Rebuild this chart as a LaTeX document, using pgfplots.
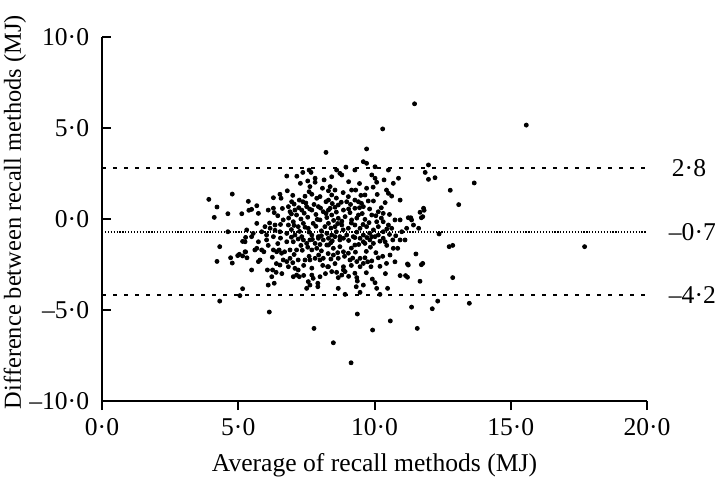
\documentclass[border=0pt]{standalone}
\usepackage{fontspec}
\setmainfont{Liberation Serif}
\usepackage{pgfplots}
\pgfplotsset{compat=1.18}
\begin{document}
\fontsize{12.8}{15}\selectfont
\begin{tikzpicture}
\begin{axis}[
  scale only axis,
  width=272.5pt, height=182pt,
  xmin=0, xmax=20, ymin=-10, ymax=10,
  axis x line=bottom, axis y line=left,
  axis line style={-, line width=1pt},
  xtick={0,5,10,15,20}, ytick={-10,-5,0,5,10},
  xticklabels={0·0,5·0,10·0,15·0,20·0},
  yticklabels={–10·0,–5·0,0·0,5·0,10·0},
  xtick align=outside, ytick align=inside,
  major tick length=4.5pt,
  tick style={line width=1pt, black},
  tick label style={font=\fontsize{12.8}{15}\selectfont},
  yticklabel style={xshift=-2pt},
  xlabel={Average of recall methods (MJ)},
  ylabel={Difference between recall methods (MJ)},
  xlabel style={font=\fontsize{12.8}{15}\selectfont},
  every axis y label/.style={at={([xshift=-43.5pt]axis description cs:0,0.519)}, rotate=90, anchor=center, inner sep=0pt, font=\fontsize{12.2}{14}\selectfont},
  clip=false,
]
\addplot[only marks, mark=*, mark size=1pt, black] coordinates {
(11.47,6.33) (15.57,5.16) (11.98,2.97) (11.86,2.56) (11.98,2.18) (12.22,2.27) (13.66,1.98) (12.78,1.58)
(13.09,0.79) (11.80,0.59) (11.82,0.48) (11.67,0.37) (11.77,0.13) (11.72,0.07) (11.33,0.07) (11.43,-0.33)
(11.62,-0.51) (12.37,-0.82) (12.74,-1.52) (12.87,-1.45) (17.71,-1.52) (11.52,-1.92) (11.77,-2.44) (11.72,-2.51)
(11.67,-3.42) (12.87,-3.22) (11.36,-4.84) (12.12,-4.93) (12.32,-4.51) (13.48,-4.63) (11.57,-6.01)
(3.92,1.08) (4.78,1.37) (4.22,0.66) (4.12,0.09) (4.62,0.29) (5.13,0.29) (5.37,0.97) (5.39,0.48)
(4.62,-0.70) (5.27,-1.01) (5.16,-1.23) (4.32,-1.52) (4.22,-2.33) (4.72,-2.13) (4.78,-2.42) (4.98,-2.01)
(5.04,-1.94) (5.16,-2.03) (5.27,-1.81) (5.32,-2.13) (5.16,-3.83) (5.06,-4.21) (4.32,-4.51)
(9.37,-5.22) (10.58,-5.60) (9.93,-6.10) (8.49,-6.80) (9.14,-7.90) (6.14,-5.11) (7.78,-6.01) (10.30,4.95)
(8.22,3.66) (6.78,2.36) (7.37,2.56) (7.60,2.69) (7.67,2.56) (7.28,1.96) (7.55,2.09) (7.82,2.24)
(7.82,2.02) (7.63,1.78) (7.60,1.50) (7.70,1.36) (8.09,1.69) (8.31,1.55) (6.53,1.36) (6.29,1.17)
(6.57,1.14) (6.96,0.95) (7.24,1.04) (7.37,0.95) (7.88,1.14) (8.00,1.23) (8.22,0.95) (5.68,0.73)
(5.49,0.53) (5.74,0.31) (6.10,0.49) (6.29,0.59) (6.32,0.35) (6.84,0.68) (6.90,0.40) (7.08,0.49)
(7.14,0.22) (7.33,0.49) (7.51,0.68) (7.70,0.49) (7.94,0.68) (8.12,0.40) (8.31,0.49) (6.65,-0.05)
(5.68,-0.24) (5.98,-0.42) (6.17,-0.51) (6.35,-0.33) (6.53,-0.70) (6.84,-0.33) (7.02,-0.15) (7.20,-0.42)
(7.39,-0.24) (7.57,-0.51) (7.75,-0.24) (8.00,-0.05) (8.18,-0.42) (5.31,-0.60) (5.55,-0.79) (5.86,-0.70)
(6.04,-0.88) (6.29,-0.97) (6.78,-0.79) (7.08,-0.88) (7.33,-0.97) (7.70,-0.88) (7.94,-0.97) (8.25,-0.79)
(5.25,-1.80) (5.61,-1.70) (5.68,-1.61) (5.86,-1.70) (5.94,-1.80) (5.80,-2.25) (5.74,-2.34) (5.49,-2.80)
(6.07,-2.80) (6.26,-2.80) (6.39,-2.93) (6.23,-3.17) (6.10,-3.63) (6.32,-3.53) (6.29,-1.70) (6.41,-1.80)
(6.50,-1.70) (6.59,-1.88) (6.53,-2.53) (6.65,-2.25) (6.78,-2.34) (6.90,-2.16) (6.84,-2.62) (7.08,-2.71)
(7.20,-2.80) (7.02,-3.17) (7.14,-3.08) (7.24,-3.17) (6.78,-1.25) (7.02,-1.25) (6.90,-1.70) (7.14,-1.70)
(7.39,-1.15) (7.51,-1.34) (7.63,-1.15) (7.82,-1.34) (7.94,-1.06) (8.12,-1.15) (8.25,-1.43) (7.88,-1.61)
(7.70,-1.70) (7.45,-2.25) (7.63,-2.25) (7.82,-2.16) (8.00,-2.25) (8.12,-2.16) (8.28,-2.62) (7.70,-3.08)
(7.75,-3.26) (8.00,-3.17) (7.57,-3.44) (7.63,-3.63) (7.51,-3.81) (7.92,-3.53) (7.92,-3.72) (5.49,-0.97)
(5.74,-1.25) (6.04,-1.15) (5.25,-1.25)
(9.71,3.85) (9.59,3.15) (9.71,3.06) (10.02,2.87) (8.61,2.69) (8.73,2.51) (8.80,2.42) (9.28,2.69)
(9.90,2.42) (10.02,2.24) (10.08,2.02) (10.51,2.69) (10.69,1.96) (10.88,2.24) (8.43,2.32) (8.37,1.78)
(8.55,1.59) (8.43,1.32) (8.31,1.04) (9.16,1.59) (9.31,1.59) (9.71,1.69) (10.44,1.59) (10.51,1.41)
(10.63,1.26) (10.94,1.04) (9.65,1.32) (9.04,1.23) (8.98,0.95) (9.28,1.04) (9.41,0.95) (9.77,0.99)
(9.96,0.99) (10.39,0.90) (8.67,0.77) (8.37,0.59) (8.86,0.49) (9.28,0.59) (9.59,0.68) (10.14,0.40)
(10.32,0.31) (11.24,0.07) (10.75,-0.05) (10.94,-0.05) (11.36,-0.05) (8.43,0.22) (8.67,0.04) (8.92,0.13)
(9.16,-0.05) (9.41,0.22) (9.65,-0.02) (9.90,0.22) (10.08,-0.15) (10.32,-0.15) (10.51,-0.33) (10.63,-0.51)
(11.18,-0.51) (11.00,-0.70) (8.31,-0.24) (8.55,-0.42) (8.80,-0.33) (9.04,-0.51) (9.28,-0.33) (9.47,-0.51)
(9.71,-0.42) (9.96,-0.60) (10.14,-0.42) (10.32,-0.70) (8.43,-0.88) (8.73,-0.97) (8.98,-0.88) (9.22,-0.97)
(9.59,-0.88) (9.90,-0.97) (10.14,-0.88)
(8.31,-1.06) (8.55,-0.97) (8.73,-1.15) (8.86,-1.06) (9.28,-1.02) (9.47,-1.06) (9.59,-1.25) (9.83,-1.15)
(10.02,-0.97) (10.32,-1.06) (10.39,-1.25) (10.94,-1.15) (11.12,-1.15) (8.31,-1.43) (8.49,-1.61) (8.73,-1.52)
(8.86,-1.80) (9.04,-1.88) (9.28,-1.43) (9.65,-1.34) (9.96,-1.34) (10.69,-1.61) (10.85,-1.61) (10.57,-1.98)
(8.49,-1.98) (8.67,-2.16) (9.10,-2.25) (9.47,-2.16) (9.65,-2.13) (10.14,-2.13) (10.44,-2.44) (11.24,-2.53)
(8.31,-2.62) (8.86,-2.62) (9.35,-2.34) (9.59,-2.44) (9.47,-2.62) (9.87,-2.62) (8.43,-2.89) (8.61,-2.93)
(8.86,-2.80) (8.92,-2.89) (8.67,-3.22) (8.80,-3.08) (9.28,-2.98) (9.35,-3.22) (9.37,-3.41) (9.92,-3.30)
(10.02,-3.50) (9.59,-3.63) (9.33,-3.72) (10.08,-3.81) (10.48,-3.81) (8.67,-3.81) (9.47,-4.03) (8.92,-4.14)
(10.20,-4.14) (10.94,-3.11) (11.14,-3.11) (11.21,-3.20) (11.21,-2.47) (10.67,-1.15)
(7.05,0.82) (7.48,0.88) (7.78,0.80) (8.45,0.85) (8.78,0.92) (9.12,0.80) (9.52,0.86)
(6.62,0.58) (7.22,0.62) (7.62,0.55) (8.02,0.60) (8.55,0.65) (9.05,0.55) (9.45,0.62) (9.82,0.55) (10.25,0.62)
(6.45,0.18) (6.95,0.28) (7.42,0.32) (7.85,0.25) (8.22,0.30) (8.60,0.38) (9.10,0.35) (9.55,0.30) (10.05,0.18) (10.55,0.25)
(6.85,0.05) (7.30,0.00) (7.55,0.10) (7.90,-0.02) (8.25,0.08) (8.50,-0.08) (8.80,-0.12) (9.35,0.05) (9.80,-0.20) (10.25,0.05)
(6.15,-0.22) (6.55,-0.30) (7.05,-0.35) (7.45,-0.45) (7.85,-0.40) (8.40,-0.50) (8.65,-0.25) (9.15,-0.22) (9.58,-0.30) (10.45,-0.55)
(6.35,-0.62) (6.95,-0.58) (7.25,-0.68) (7.60,-0.72) (8.05,-0.65) (8.60,-0.70) (8.85,-0.60) (9.35,-0.72) (9.82,-0.78) (10.55,-0.85)
(6.55,-1.05) (6.95,-1.00) (7.20,-1.10) (7.72,-1.12) (8.05,-0.92) (8.45,-1.20) (9.05,-1.18) (9.72,-1.02) (10.20,-1.22) (10.78,-0.92)
(6.10,-1.45) (6.45,-1.35) (7.30,-1.45) (7.55,-1.55) (8.00,-1.40) (8.40,-1.30) (9.15,-1.60) (9.42,-1.40) (9.85,-1.55) (10.45,-1.45)
(6.70,-1.80) (7.05,-1.95) (7.35,-1.72) (8.05,-1.75) (8.30,-1.90) (8.65,-1.85) (9.30,-1.82) (9.70,-1.78) (10.05,-1.85)
(6.25,-2.10) (7.20,-2.25) (7.60,-2.05) (7.95,-1.98) (8.40,-2.20) (8.90,-2.05) (9.20,-2.15) (9.90,-2.30) (10.30,-2.05)
(6.40,-2.45) (7.00,-2.40) (7.40,-2.55) (7.70,-2.70) (8.10,-2.55) (8.55,-2.45) (9.15,-2.55) (9.75,-2.35) (10.20,-2.60) (10.75,-2.35)
(6.60,-3.00) (7.40,-3.10) (8.20,-3.00) (9.05,-3.15) (9.70,-2.95) (10.40,-3.00)
(7.00,1.30) (7.45,1.25) (8.60,1.15) (8.85,1.45) (9.50,1.30) (10.10,1.35) (6.80,1.55) (9.95,1.75)
(8.15,2.15) (9.05,2.05) (9.45,1.95) (10.35,2.15) (7.15,2.35) (8.95,2.85)
};
\addplot[black, line width=1pt, dash pattern=on 2pt off 3.5pt] coordinates {(0,2.8) (20,2.8)};
\addplot[black, line width=1pt, dash pattern=on 0.6pt off 0.85pt] coordinates {(0,-0.7) (20,-0.7)};
\addplot[black, line width=1pt, dash pattern=on 2pt off 3.5pt] coordinates {(0,-4.2) (20,-4.2)};
\node[anchor=west] at (axis cs:20,2.8) {\hspace{8pt}2·8};
\node[anchor=west] at (axis cs:20,-0.7) {\hspace{6.5pt}–0·7};
\node[anchor=west] at (axis cs:20,-4.2) {\hspace{6.5pt}–4·2};
\end{axis}
\pgfresetboundingbox
\path (-51pt,-41pt) rectangle (306.5pt,200.5pt);
\end{tikzpicture}
\end{document}
